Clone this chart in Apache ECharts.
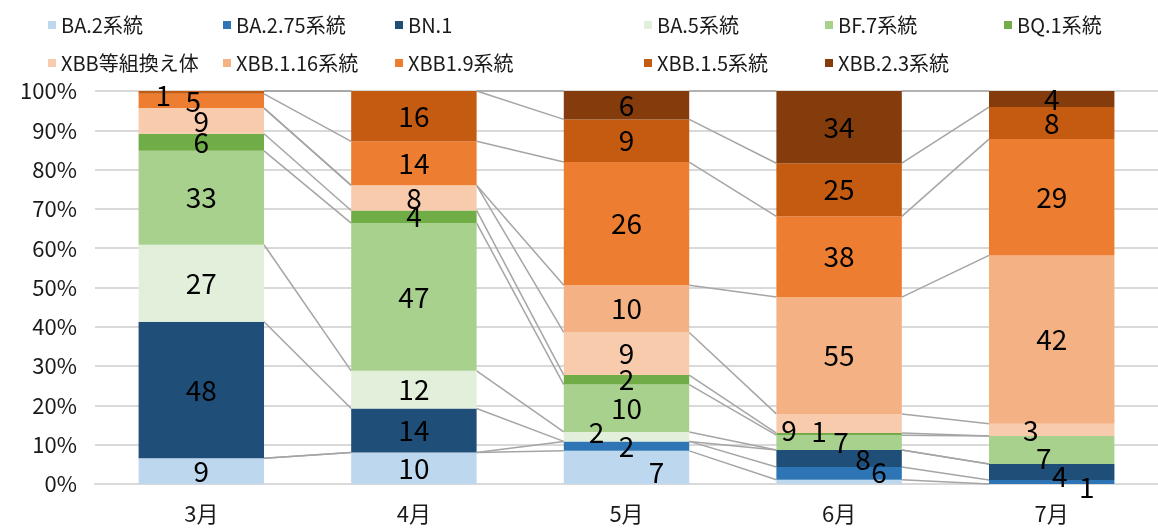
<!DOCTYPE html>
<html>
<head>
<meta charset="utf-8">
<script src="https://cdn.jsdelivr.net/npm/echarts@6/dist/echarts.min.js"></script>
<style>
html,body{margin:0;padding:0;background:#fff;}
#chart{width:1158px;height:528px;}
</style>
</head>
<body>
<div id="chart"></div>
<script>
// ---- data (counts per month) ----
const categories = ['3月', '4月', '5月', '6月', '7月'];
const seriesNames = ['BA.2系統', 'BA.2.75系統', 'BN.1', 'BA.5系統', 'BF.7系統', 'BQ.1系統',
  'XBB等組換え体', 'XBB.1.16系統', 'XBB1.9系統', 'XBB.1.5系統', 'XBB.2.3系統'];
const ba2       = [9, 10, 7, 2, 0];
const ba275     = [0, 0, 2, 6, 1];
const bn1       = [48, 14, 0, 8, 4];
const ba5       = [27, 12, 2, 0, 0];
const bf7       = [33, 47, 10, 7, 7];
const bq1       = [6, 4, 2, 1, 0];
const xbbRecomb = [9, 8, 9, 9, 3];
const xbb116    = [0, 0, 10, 55, 42];
const xbb19     = [5, 14, 26, 38, 29];
const xbb15     = [1, 16, 9, 25, 8];
const xbb23     = [0, 0, 6, 34, 4];
const yTickValues = [0, 10, 20, 30, 40, 50, 60, 70, 80, 90, 100];

const seriesData = [ba2, ba275, bn1, ba5, bf7, bq1, xbbRecomb, xbb116, xbb19, xbb15, xbb23];
const colors = ['#BDD7EE', '#2E75B6', '#1F4E79', '#E2EFDA', '#A9D18E', '#70AD47',
  '#F8CBAD', '#F4B183', '#ED7D31', '#C55A11', '#843C0C'];

// label placement tweaks (series index -> category index -> [dx, dy])
const labelOffsets = {
  9: {0: [-38, 3]},
  8: {0: [-8, 0]},
  0: {2: [30, 5]},
  3: {2: [-30, -4]},
  1: {3: [40, -1], 4: [35, 5]},
  2: {3: [24, 1], 4: [8, 4]},
  4: {3: [2, 0], 4: [-8, 8]},
  5: {3: [-20, -3]},
  6: {3: [-50, 7], 4: [-21, 0]}
};
const hiddenLabels = {0: {3: true}};

const totals = categories.map((c, i) => seriesData.reduce((s, arr) => s + arr[i], 0));
const pct = seriesData.map(arr => arr.map((v, i) => v / totals[i] * 100));

// cumulative tops for series lines
const cumTop = [];
let run = categories.map(() => 0);
pct.forEach((arr, s) => {
  run = run.map((r, i) => r + arr[i]);
  cumTop.push(run.slice());
});

const barFrac = 0.59;
const labelFont = 'Noto Sans CJK JP';

const barSeries = seriesNames.map((name, s) => ({
  name: name,
  type: 'bar',
  stack: 'total',
  barWidth: '59%',
  z: 3,
  itemStyle: {color: colors[s]},
  data: pct[s].map((v, i) => {
    const item = {value: v};
    const off = labelOffsets[s] && labelOffsets[s][i];
    const hide = (seriesData[s][i] === 0) || (hiddenLabels[s] && hiddenLabels[s][i]);
    item.label = {show: !hide};
    if (off) item.label.offset = off;
    return item;
  }),
  label: {
    position: 'inside',
    color: '#000',
    fontSize: 28,
    fontFamily: labelFont,
    formatter: p => String(seriesData[s][p.dataIndex])
  },
  emphasis: {disabled: true}
}));

const lineData = [];
cumTop.forEach((tops, s) => {
  for (let i = 0; i < categories.length - 1; i++) {
    lineData.push([i, tops[i], tops[i + 1]]);
  }
});

const lineSeries = {
  type: 'custom',
  silent: true,
  z: 2,
  renderItem: function (params, api) {
    const i = api.value(0);
    const p1 = api.coord([i, api.value(1)]);
    const p2 = api.coord([i + 1, api.value(2)]);
    const band = api.size([1, 0])[0];
    const half = band * barFrac / 2;
    return {
      type: 'line',
      shape: {x1: p1[0] + half, y1: p1[1], x2: p2[0] - half, y2: p2[1]},
      style: {stroke: '#A5A5A5', lineWidth: 1.5}
    };
  },
  encode: {x: 0, y: 1},
  data: lineData
};

const legendCols = [
  {left: 43, data: ['BA.2系統', 'XBB等組換え体']},
  {left: 218, data: ['BA.2.75系統', 'XBB.1.16系統']},
  {left: 390, data: ['BN.1', 'XBB1.9系統']},
  {left: 639, data: ['BA.5系統', 'XBB.1.5系統']},
  {left: 820, data: ['BF.7系統', 'XBB.2.3系統']},
  {left: 999, data: ['BQ.1系統']}
];

const chart = echarts.init(document.getElementById('chart'));
chart.setOption({
  backgroundColor: '#fff',
  animation: false,
  legend: legendCols.map(c => ({
    left: c.left,
    top: 9,
    orient: 'vertical',
    itemWidth: 8,
    itemHeight: 8,
    itemGap: 16,
    icon: 'rect',
    selectedMode: false,
    textStyle: {fontSize: 20, color: '#1a1a1a', fontFamily: labelFont, lineHeight: 22},
    data: c.data
  })),
  grid: {left: 95, top: 91, width: 1081, height: 393},
  xAxis: {
    type: 'category',
    data: categories,
    axisLine: {lineStyle: {color: '#D9D9D9', width: 2}},
    axisTick: {show: false},
    axisLabel: {fontSize: 22, color: '#1a1a1a', fontFamily: labelFont, margin: 19}
  },
  yAxis: {
    type: 'value',
    min: 0,
    max: 100,
    interval: 10,
    axisLine: {show: false},
    axisTick: {show: false},
    splitLine: {lineStyle: {color: '#D9D9D9', width: 2}},
    axisLabel: {
      fontSize: 22, color: '#1a1a1a', fontFamily: labelFont, margin: 18,
      formatter: v => (yTickValues.indexOf(v) >= 0 ? v + '%' : '')
    }
  },
  series: [lineSeries].concat(barSeries)
});
</script>
</body>
</html>
